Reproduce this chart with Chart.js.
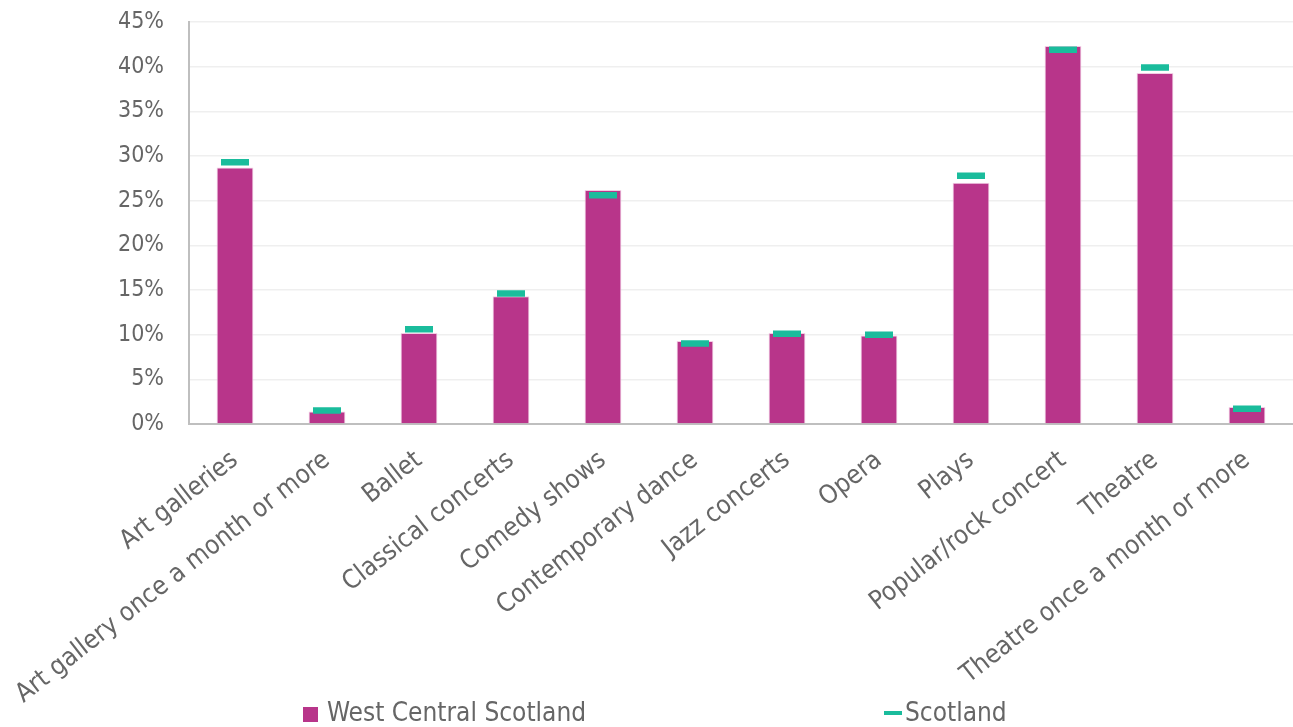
<!DOCTYPE html>
<html>
<head>
<meta charset="utf-8">
<script src="https://cdn.jsdelivr.net/npm/chart.js@4/dist/chart.umd.min.js"></script>
<style>
  html, body { margin: 0; padding: 0; background: #fff; }
  #wrap { position: relative; width: 1293px; height: 727px; }
  #legend {
    position: absolute; left: 0; top: 697px; width: 1293px; height: 30px;
    font-family: "DejaVu Sans Condensed", "DejaVu Sans", sans-serif;
    font-size: 26px; color: #666;
  }
  .item { position: absolute; top: 0; white-space: nowrap; line-height: 30px; }
  .box { display: inline-block; width: 15px; height: 15px; background: #B8358A; margin-right: 9px; vertical-align: -1px; }
  .dash { display: inline-block; width: 18px; height: 4px; background: #1ABC9C; margin-right: 3px; vertical-align: 6px; }
</style>
</head>
<body>
<div id="wrap">
  <canvas id="chart"></canvas>
  <div id="legend">
    <div class="item" style="left:303px"><span class="box"></span>West Central Scotland</div>
    <div class="item" style="left:884px"><span class="dash"></span>Scotland</div>
  </div>
</div>
<script>
const categories = [
  "Art galleries",
  "Art gallery once a month or more",
  "Ballet",
  "Classical concerts",
  "Comedy shows",
  "Contemporary dance",
  "Jazz concerts",
  "Opera",
  "Plays",
  "Popular/rock concert",
  "Theatre",
  "Theatre once a month or more",
]
const westCentral = [28.7, 1.4, 10.2, 14.3, 26.2, 9.3, 10.2, 9.9, 27.0, 42.3, 39.3, 1.9]
const scotland = [29.3, 1.5, 10.6, 14.6, 25.6, 9.0, 10.1, 10.0, 27.8, 41.9, 39.9, 1.7]
const yTicks = [0, 5, 10, 15, 20, 25, 30, 35, 40, 45]

const font = "'DejaVu Sans Condensed', 'DejaVu Sans', sans-serif"

const chart = new Chart(document.getElementById("chart"), {
  type: "bar",
  data: {
    labels: categories,
    datasets: [
      {
        type: "line",
        label: "Scotland",
        data: scotland,
        showLine: false,
        pointStyle: "line",
        pointRadius: 14,
        pointHoverRadius: 14,
        pointBorderWidth: 6.5,
        pointHoverBorderWidth: 6.5,
        borderColor: "#1ABC9C",
        backgroundColor: "#1ABC9C",
        order: 0,
      },
      {
        label: "West Central Scotland",
        data: westCentral,
        backgroundColor: "#B8358A",
        borderColor: "#F2CDE4",
        borderWidth: 1,
        categoryPercentage: 1,
        barPercentage: 0.4,
        order: 1,
      },
    ],
  },
  options: {
    responsive: true,
    maintainAspectRatio: false,
    animation: false,
    layout: { autoPadding: false, padding: { top: 22, right: 0, left: 0, bottom: 0 } },
    plugins: {
      legend: { display: false },
      tooltip: { enabled: false },
    },
    scales: {
      x: {
        grid: { display: false },
        border: { color: "#BFBFBF", width: 2 },
        ticks: {
          color: "#666",
          font: { family: font, size: 26 },
          minRotation: 38,
          maxRotation: 38,
          padding: 13,
          autoSkip: false,
        },
        afterFit: (scale) => {
          scale.height = 303
        },
      },
      y: {
        min: 0,
        max: 45,
        afterBuildTicks: (scale) => {
          scale.ticks = yTicks.map((v) => ({ value: v }))
        },
        grid: { color: "#EFEFEF", lineWidth: 1.5, drawTicks: false },
        border: { color: "#BFBFBF", width: 2 },
        ticks: {
          color: "#666",
          font: { family: font, size: 23 },
          padding: 25,
          callback: (v) => v + "%",
        },
        afterFit: (scale) => {
          scale.width = 189
          scale.paddingTop = 0
          scale.paddingBottom = 0
        },
      },
    },
  },
})
</script>
</body>
</html>
